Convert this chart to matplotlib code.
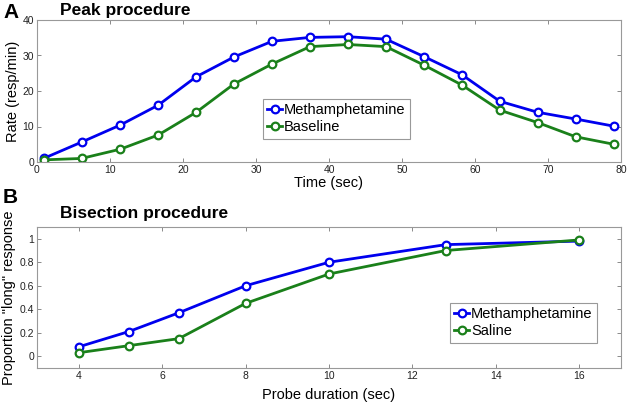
import matplotlib
matplotlib.use("Agg")
import matplotlib.pyplot as plt

plt.rcParams['font.family'] = ['Liberation Sans', 'DejaVu Sans']

# Panel A: peak procedure
peak_time = [0.9, 6.1, 11.4, 16.6, 21.8, 27.0, 32.2, 37.4, 42.6, 47.8, 53.0, 58.2, 63.4, 68.6, 73.8, 79.0]
peak_meth = [1.0, 5.6, 10.4, 16.0, 24.0, 29.6, 34.0, 35.1, 35.3, 34.6, 29.7, 24.6, 17.1, 14.0, 12.1, 10.1]
peak_base = [0.6, 1.0, 3.6, 7.6, 14.0, 22.0, 27.6, 32.5, 33.1, 32.5, 27.3, 21.7, 14.6, 11.1, 7.1, 5.0]
peak_xticks = [0, 10, 20, 30, 40, 50, 60, 70, 80]
peak_yticks = [0, 10, 20, 30, 40]

# Panel B: bisection procedure
bis_dur = [4, 5.2, 6.4, 8, 10, 12.8, 16]
bis_meth = [0.08, 0.21, 0.37, 0.60, 0.80, 0.95, 0.98]
bis_saline = [0.03, 0.09, 0.15, 0.45, 0.70, 0.90, 0.99]
bis_xticks = [4, 6, 8, 10, 12, 14, 16]
bis_yticks = [0, 0.2, 0.4, 0.6, 0.8, 1]
bis_yticklabels = ['0', '0.2', '0.4', '0.6', '0.8', '1']

BLUE = '#0000ee'
GREEN = '#1a801a'
W, H = 630, 405

fig = plt.figure(figsize=(6.3, 4.05), dpi=100)

def axes_px(l, t, r, b):
    return fig.add_axes([l / W, 1 - b / H, (r - l) / W, (b - t) / H])

def style(ax):
    for s in ax.spines.values():
        s.set_color('#999999')
        s.set_linewidth(0.8)
    ax.tick_params(direction='in', top=True, right=True, length=3, width=0.6,
                   color='#777777', labelsize=7.5, pad=2, labelcolor='#222222')

mk = dict(marker='o', markersize=5.5, markerfacecolor='white', markeredgewidth=1.6, linewidth=2)

ax1 = axes_px(37, 20, 621, 162)
ax1.plot(peak_time, peak_meth, color=BLUE, markeredgecolor=BLUE, label='Methamphetamine', **mk)
ax1.plot(peak_time, peak_base, color=GREEN, markeredgecolor=GREEN, label='Baseline', **mk)
ax1.set_xlim(0, 80)
ax1.set_ylim(0, 40)
ax1.set_xticks(peak_xticks)
ax1.set_yticks(peak_yticks)
style(ax1)
ax1.set_xlabel('Time (sec)', fontsize=10.5, labelpad=1)
ax1.set_ylabel('Rate (resp/min)', fontsize=10.5, labelpad=2)
leg1 = ax1.legend(loc='upper left', bbox_to_anchor=((263 - 37) / 584, 1 - (99 - 20) / 142),
                  fontsize=10.5, handlelength=1.0, handletextpad=0.15, borderpad=0.3,
                  labelspacing=0.2, fancybox=False, framealpha=1, borderaxespad=0)
leg1.get_frame().set_edgecolor('#999999')
leg1.get_frame().set_linewidth(0.8)

ax2 = axes_px(37, 227, 621, 368)
ax2.plot(bis_dur, bis_meth, color=BLUE, markeredgecolor=BLUE, label='Methamphetamine', **mk)
ax2.plot(bis_dur, bis_saline, color=GREEN, markeredgecolor=GREEN, label='Saline', **mk)
ax2.set_xlim(3, 17)
ax2.set_ylim(-0.1, 1.1)
ax2.set_xticks(bis_xticks)
ax2.set_yticks(bis_yticks)
ax2.set_yticklabels(bis_yticklabels)
style(ax2)
ax2.set_xlabel('Probe duration (sec)', fontsize=10.5, labelpad=5)
ax2.set_ylabel('Proportion "long" response', fontsize=10.5, labelpad=3)
leg2 = ax2.legend(loc='upper left', bbox_to_anchor=((450 - 37) / 584, 1 - (303 - 227) / 141),
                  fontsize=10.5, handlelength=1.0, handletextpad=0.15, borderpad=0.3,
                  labelspacing=0.2, fancybox=False, framealpha=1, borderaxespad=0)
leg2.get_frame().set_edgecolor('#999999')
leg2.get_frame().set_linewidth(0.8)

fig.text(3 / W, 1 - 12 / H, 'A', fontsize=15, fontweight='bold', va='center', ha='left')
fig.text(60 / W, 1 - 11 / H, 'Peak procedure', fontsize=12.5, fontweight='bold', va='center', ha='left')
fig.text(3 / W, 1 - 197 / H, 'B', fontsize=15, fontweight='bold', va='center', ha='left')
fig.text(60 / W, 1 - 214 / H, 'Bisection procedure', fontsize=12.5, fontweight='bold', va='center', ha='left')

fig.savefig('out.png', dpi=100)
